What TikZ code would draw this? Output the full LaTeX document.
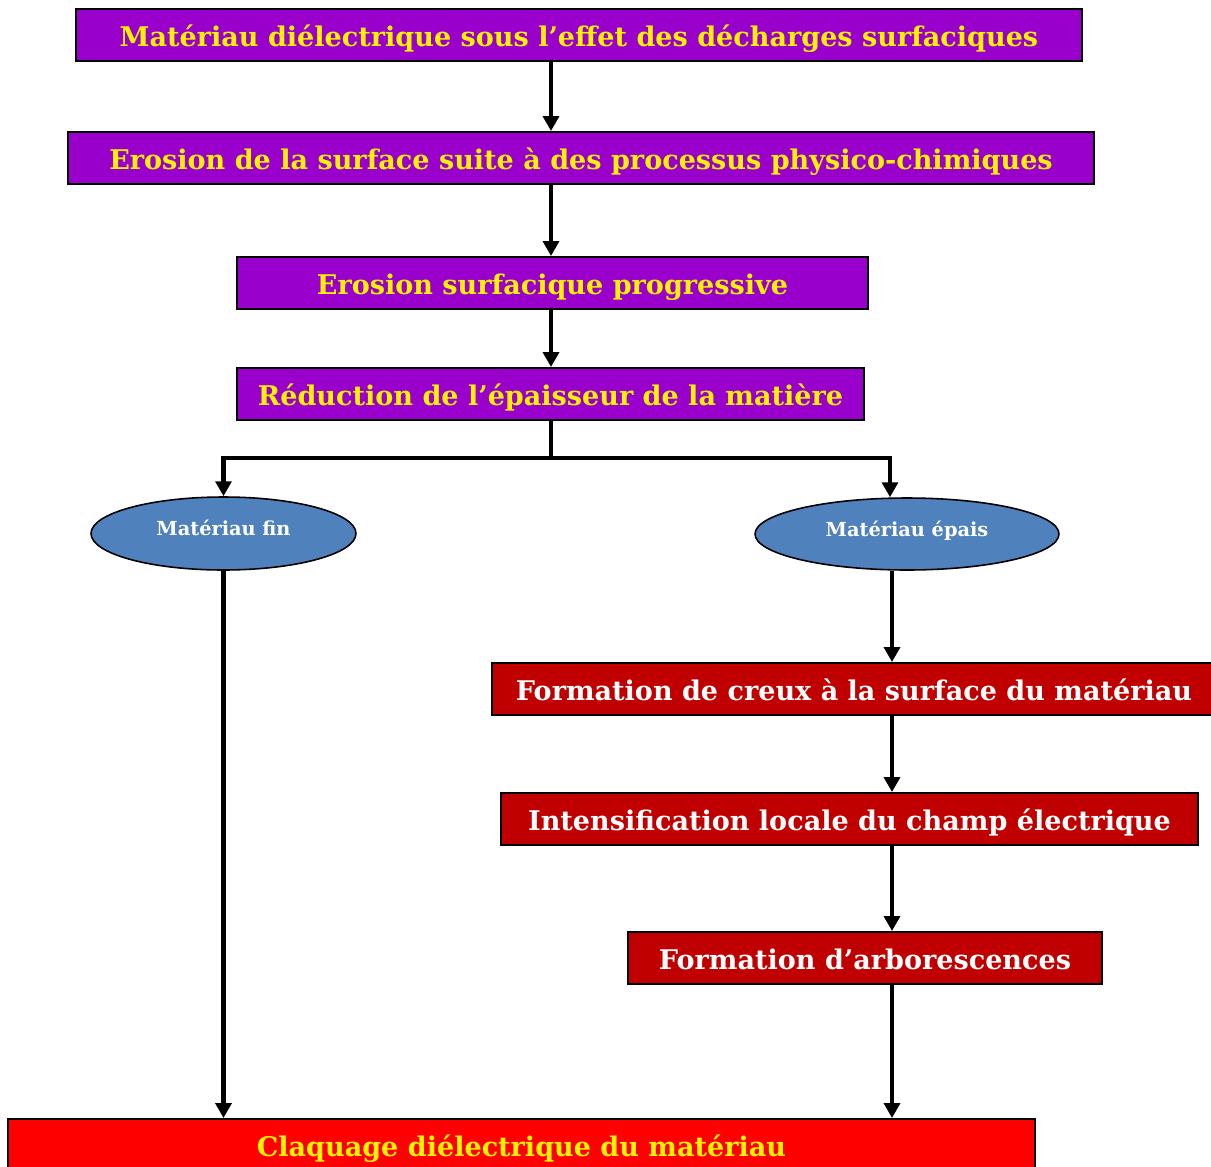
\documentclass[tikz,border=0pt]{standalone}
\usepackage{fontspec}
\setmainfont{DejaVu Serif}
\usepackage{tikz}
\usetikzlibrary{arrows.meta,shapes.geometric}

\definecolor{violetbox}{HTML}{9900CC}
\definecolor{bluebox}{HTML}{4F81BD}
\definecolor{darkredbox}{HTML}{C00000}
\definecolor{redbox}{HTML}{FF0000}

\begin{document}
\begin{tikzpicture}[
        x=0.02cm, y=-0.02cm,
        stage/.style={draw, line width=1.1pt, minimum height=1.04cm, inner sep=0pt, text height=13.6pt, text depth=0pt, font=\fontsize{15.4}{18}\selectfont\bfseries},
        upper/.style={stage, fill=violetbox, text=yellow},
        lower/.style={stage, fill=darkredbox, text=white},
        choice/.style={draw, ellipse, line width=0.9pt, fill=bluebox, text=white, inner sep=0pt, text height=2.5pt, text depth=0pt, font=\fontsize{11}{13}\selectfont\bfseries},
        link/.style={-{Triangle[length=8.5pt,width=9pt]}, line width=2.6pt}
    ]
        \useasboundingbox (0,0) rectangle (1211,1167);
        % tronc commun
        \node[upper, minimum width=20.12cm] (n1) at (579,35)    {Matériau diélectrique sous l’effet des décharges surfaciques};
        \node[upper, minimum width=20.52cm] (n2) at (581,158)   {Erosion de la surface suite à des processus physico-chimiques};
        \node[upper, minimum width=12.62cm] (n3) at (552.5,283) {Erosion surfacique progressive};
        \node[upper, minimum width=12.54cm] (n4) at (550.5,394) {Réduction de l’épaisseur de la matière};
        % deux cas
        \node[choice, minimum width=5.3cm, minimum height=1.46cm]  (n5) at (223.5,533.5) {Matériau fin};
        \node[choice, minimum width=6.08cm, minimum height=1.44cm] (n6) at (907,534)     {Matériau épais};
        % branche materiau epais
        \node[lower, minimum width=14.48cm] (n7) at (854,689)   {Formation de creux à la surface du matériau};
        \node[lower, minimum width=13.94cm] (n8) at (849.5,819) {Intensification locale du champ électrique};
        \node[lower, minimum width=9.48cm]  (n9) at (865,958)   {Formation d’arborescences};
        \node[stage, fill=redbox, text=yellow, minimum width=20.54cm] (n10) at (521.5,1145) {Claquage diélectrique du matériau};

        \coordinate (spine) at (551,458);
        \coordinate (turn) at (890,458);
        \coordinate (rcol) at (892,0);

        \draw[link] (n1.south -| spine) -- (n2.north -| spine);
        \draw[link] (n2.south -| spine) -- (n3.north -| spine);
        \draw[link] (n3.south -| spine) -- (n4.north -| spine);
        \draw[line width=2.6pt] (n4.south -| spine) -- (spine);
        \draw[link] (spine) -| (n5.north);
        \draw[link] (spine) -- (turn) -- (turn |- n6.north);
        \draw[link] (n5.south) -- (n5.south |- n10.north);
        \draw[link] (n6.south -| rcol) -- (n7.north -| rcol);
        \draw[link] (n7.south -| rcol) -- (n8.north -| rcol);
        \draw[link] (n8.south -| rcol) -- (n9.north -| rcol);
        \draw[link] (n9.south -| rcol) -- (n10.north -| rcol);
    \end{tikzpicture}
\end{document}
